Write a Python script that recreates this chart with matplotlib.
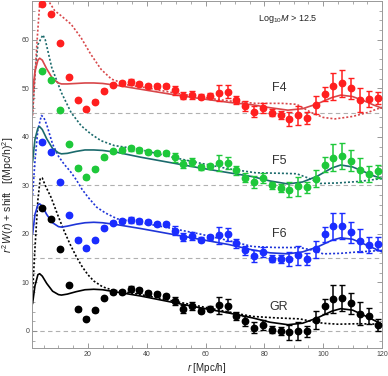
import numpy as np
import matplotlib
matplotlib.use("Agg")
import matplotlib.pyplot as plt

plt.rcParams['font.family'] = ['Liberation Sans', 'DejaVu Sans']
plt.rcParams['mathtext.fontset'] = 'custom'
plt.rcParams['mathtext.rm'] = 'Liberation Sans'
plt.rcParams['mathtext.it'] = 'Liberation Sans:italic'

# ---- data ----
r_pts = np.arange(4.5, 120, 3.0)   # bin centres, 39 points

gr_pts = [25.3, 23.1, 16.8, 9.5, 4.5, 2.5, 4.3, 6.8, 8.0, 8.1, 8.6, 8.4, 7.9, 7.7, 7.3,
          6.2, 4.6, 5.1, 4.2, 4.6, 5.3, 5.2, 3.1, 2.1, 0.7, 1.3, 0.3, 0.0, -0.3, 0.0,
          -0.1, 2.3, 5.1, 6.6, 6.8, 5.7, 3.6, 3.1, 1.2]
f6_pts = [23.9, 21.8, 15.7, 8.8, 3.8, 2.0, 3.7, 6.3, 7.3, 7.6, 7.8, 7.6, 7.4, 7.1, 7.0,
          5.7, 4.4, 4.6, 3.8, 4.3, 4.7, 4.9, 3.1, 1.6, 0.5, 1.3, -0.1, -0.1, -0.2, 0.6,
          -0.2, 1.8, 4.9, 6.6, 6.6, 5.3, 3.6, 2.7, 3.0]
f5_pts = [23.6, 21.7, 15.6, 8.5, 3.6, 1.7, 3.4, 5.8, 7.0, 7.2, 7.6, 7.2, 6.8, 6.7, 6.7,
          5.8, 4.4, 4.8, 3.7, 3.9, 4.6, 4.6, 3.1, 1.6, 0.7, 1.5, 0.0, -0.5, -0.9, -0.2,
          -0.4, 1.4, 4.3, 5.7, 6.1, 5.1, 3.2, 2.4, 2.9]
f4_pts = [22.3, 20.4, 14.3, 7.4, 2.6, 0.7, 2.2, 4.5, 5.7, 6.1, 6.3, 5.9, 5.5, 5.5, 5.5,
          4.6, 3.5, 3.7, 3.3, 3.5, 4.0, 4.3, 2.6, 1.4, 0.2, 1.0, 0.0, -0.5, -1.3, -0.6,
          -1.1, 1.6, 3.8, 5.4, 6.0, 5.0, 2.6, 2.8, 3.0]
err = [0.2, 0.2, 0.2, 0.2, 0.3, 0.3, 0.3, 0.3, 0.3, 0.4, 0.6, 0.5, 0.4, 0.4, 0.4,
       0.9, 0.8, 0.8, 0.5, 0.5, 1.7, 1.3, 0.9, 1.0, 1.2, 1.0, 0.7, 0.8, 1.5, 1.9,
       1.2, 1.8, 1.5, 2.8, 2.7, 2.2, 2.4, 1.6, 1.3]

# model curves (solid = best fit, dotted = alternative)
r_sol = [1.2, 2, 3, 3.6, 4.5, 6, 8, 10, 11, 13, 16, 19, 22, 25, 30, 38, 48, 58, 68,
         76, 82, 88, 93, 98, 103, 106, 110, 114, 117, 120]
gr_sol = [5.7, 9.3, 11.6, 11.8, 11.3, 9.8, 8.2, 7.5, 7.4, 7.6, 8.1, 8.5, 8.6, 8.5, 8.0,
          7.2, 6.0, 4.8, 3.7, 2.7, 1.8, 1.3, 1.6, 2.7, 4.1, 4.6, 4.3, 3.2, 2.3, 1.4]
f6_sol = [5.0, 9.0, 11.0, 11.2, 10.7, 9.0, 7.3, 6.5, 6.4, 6.6, 7.0, 7.3, 7.4, 7.3, 6.9,
          6.1, 5.0, 3.9, 2.8, 1.7, 1.1, 0.9, 1.3, 2.3, 3.7, 4.2, 3.9, 2.9, 2.1, 1.3]
f5_sol = [4.8, 9.5, 11.8, 12.1, 11.5, 9.6, 7.6, 6.7, 6.5, 6.6, 7.0, 7.3, 7.3, 7.2, 6.8,
          5.8, 4.7, 3.6, 2.6, 1.8, 0.9, 0.3, 0.7, 1.9, 3.6, 4.2, 3.8, 2.8, 2.0, 1.4]
f4_sol = [4.1, 8.5, 10.8, 11.2, 10.8, 9.0, 7.0, 6.1, 5.9, 5.9, 6.0, 6.1, 6.1, 6.0, 5.6,
          4.8, 3.8, 2.9, 2.1, 1.6, 1.0, 0.5, 0.8, 1.8, 3.1, 3.6, 3.3, 2.4, 1.6, 0.9]

r_gr_dot = [1.2, 2, 3, 3.8, 4.5, 5.5, 7.5, 10, 12, 14, 16, 18, 20, 22, 25, 28, 32, 38,
            48, 58, 68, 76, 84, 92, 96, 100, 105, 112, 120]
gr_dot = [8, 17, 27, 31.5, 31.5, 30, 27.5, 23.5, 20.5, 17.8, 15.4, 13.3, 11.6, 10.3,
          9.1, 8.5, 8.1, 7.5, 6.3, 5.1, 3.9, 3.0, 2.7, 2.5, 2.0, 1.6, 1.4, 1.5, 1.4]
r_f6_dot = [1.2, 2, 3, 4.2, 5, 6, 8, 10, 12, 14, 16, 18, 20, 23, 26, 30, 34, 40, 48, 58,
            68, 76, 84, 92, 96, 100, 106, 112, 120]
f6_dot = [13, 20, 26.5, 29.4, 29, 27.5, 23.5, 21, 19.3, 17.9, 16.2, 14.2, 12.6, 10.5,
          9.3, 8.1, 7.7, 7.1, 6.2, 5.0, 3.6, 2.4, 2.2, 2.2, 1.7, 0.9, 1.0, 1.3, 1.6]
r_f5_dot = [1.2, 2, 3, 4.7, 5.5, 7.7, 11, 14.3, 17.7, 21, 24.5, 29, 37, 48, 58, 68, 77,
            85, 91, 95, 99, 105, 112, 120]
f5_dot = [15, 23, 29, 31, 30, 24.3, 19.1, 15.0, 12.3, 10.6, 9.2, 8.2, 7.5, 5.9, 4.6,
          3.4, 2.6, 2.5, 2.4, 1.5, 0.4, 0.5, 0.8, 1.4]
r_f4_dot = [1.2, 2, 2.8, 3.7, 5, 6.4, 8.7, 11, 14.3, 17.7, 21, 24.5, 28, 33.5, 40, 48,
            58, 68, 77, 86, 91, 96, 100, 104, 110, 115, 120]
f4_dot = [-0.6, 7.5, 15.5, 23.2, 26, 23.2, 21.0, 19.9, 18.2, 15.4, 12.0, 8.9, 6.9, 5.7,
          5.1, 4.2, 3.2, 2.4, 1.9, 1.9, 1.7, 0.0, -1.0, -1.3, -0.8, 0.0, 1.1]

series = [
    # name, shift, points, solid, r_dot, dot, point colour, line colour
    ("GR", 0, gr_pts, gr_sol, r_gr_dot, gr_dot, "black", "black"),
    ("F6", 15, f6_pts, f6_sol, r_f6_dot, f6_dot, "#1a2cff", "#1f35d8"),
    ("F5", 30, f5_pts, f5_sol, r_f5_dot, f5_dot, "#1ec83a", "#1b6a6c"),
    ("F4", 45, f4_pts, f4_sol, r_f4_dot, f4_dot, "#ff1f1f", "#d8474a"),
]

fig = plt.figure(figsize=(3.88, 3.76), dpi=100)
ax = fig.add_axes([0.0825, 0.0745, 0.902, 0.923])

for name, shift, pts, sol, r_dot, dot, pc, lc in series:
    ax.axhline(shift, color="#b0b0b0", lw=0.8, ls=(0, (4, 3)), zorder=1)
    ax.plot(r_sol, np.array(sol) + shift, color=lc, lw=1.2, zorder=2)
    ax.plot(r_dot, np.array(dot) + shift, color=lc, lw=1.2, ls=(0, (1.2, 1.2)), zorder=2)
    ax.errorbar(r_pts, np.array(pts) + shift, yerr=err, fmt="o", color=pc, ms=4.6,
                elinewidth=1.1, capsize=2, capthick=1.0, zorder=3)
    ax.text(85, shift + 5.0, name, ha="center", va="center", fontsize=9, color="#333333")

ax.text(88, 64.2, r"Log$_{10}$$M$ > 12.5", ha="center", va="center", fontsize=6.5,
        color="#222222")

ax.set_xlim(1, 120)
ax.set_ylim(-3.5, 68)
ax.set_xticks([20, 40, 60, 80, 100, 120])
ax.set_xticks(np.arange(5, 120, 5), minor=True)
ax.set_yticks([0, 10, 20, 30, 40, 50, 60])
ax.set_yticks(np.arange(-2, 68, 2), minor=True)
ax.tick_params(which="both", direction="in", top=True, right=True, color="#888888",
               labelsize=5, labelcolor="#444444", pad=2)
ax.tick_params(which="major", length=3.5, width=0.6)
ax.tick_params(which="minor", length=2, width=0.5)
for s in ax.spines.values():
    s.set_color("#999999")
    s.set_linewidth(0.7)

ax.set_xlabel(r"$r$ [Mpc/h]", fontsize=7, color="#222222", labelpad=2)
ax.set_ylabel(r"$r^2\,W(r)$ + shift   [(Mpc/h)$^2$]", fontsize=7.5, color="#222222")
ax.yaxis.set_label_coords(-0.045, 0.44)

fig.savefig("out.png", dpi=100)
